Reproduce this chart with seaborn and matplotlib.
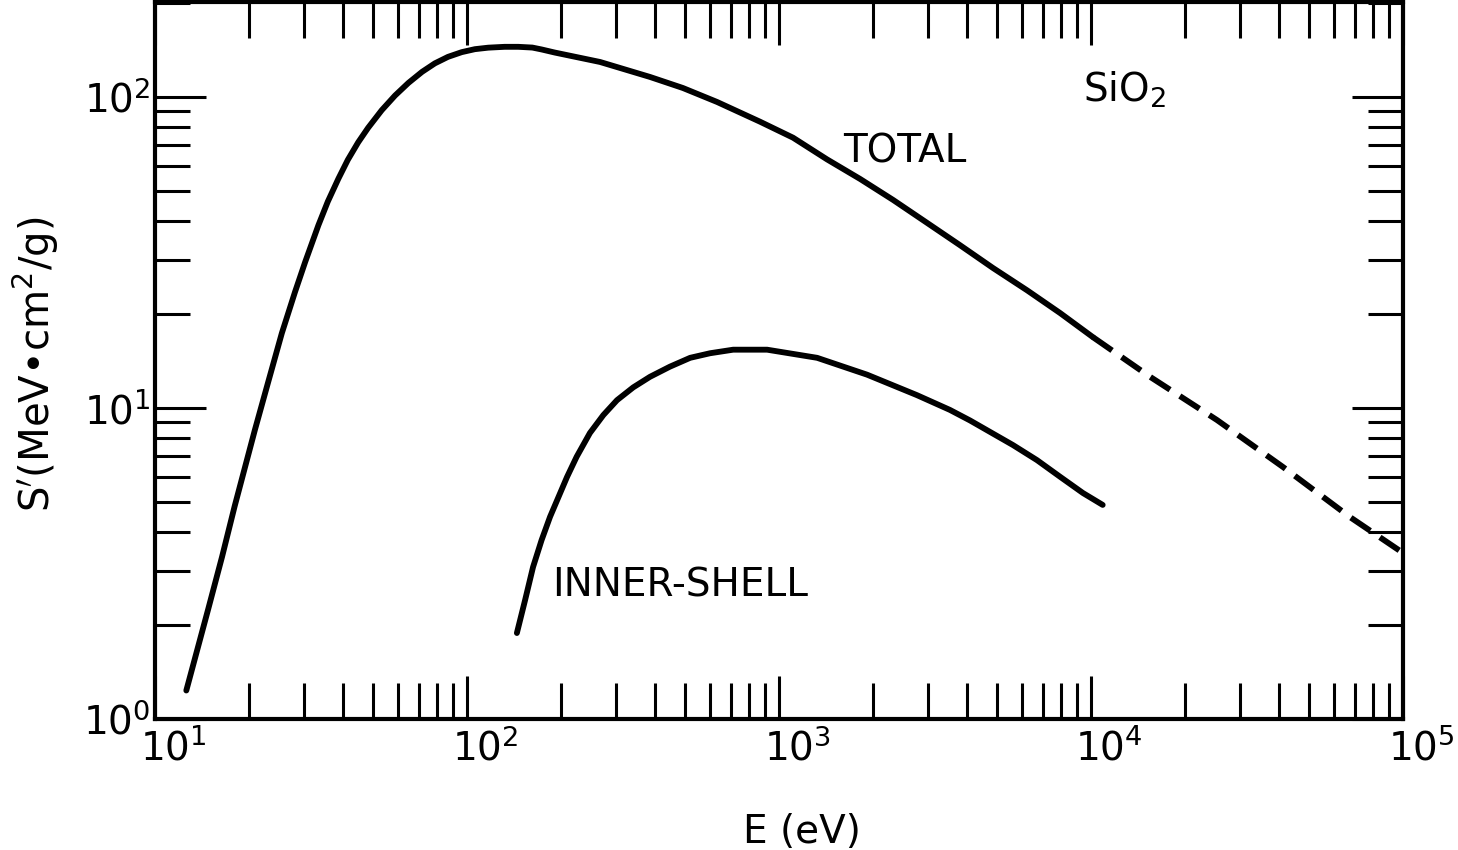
import numpy as np
import matplotlib
matplotlib.use("Agg")
import matplotlib.pyplot as plt
import matplotlib.transforms as mtransforms
from matplotlib.ticker import LogLocator, NullFormatter
import seaborn as sns

# values (E in eV, S' in MeV cm^2/g)
total_e = [12.6, 14.8, 16.4, 18.0, 20.9, 23.1, 25.5, 28.1, 30.3, 33.4, 35.8, 38.7,
           41.5, 44.8, 48.2, 53.3, 58.8, 64.9, 71.8, 78.9, 86.9, 96.2, 106, 117,
           132, 146, 162, 173.4, 191, 267, 386, 492, 633, 869, 1109, 1426, 1820,
           2319, 2980, 3800, 4850, 6240, 7960, 10140]
total_s = [1.235, 2.25, 3.32, 4.83, 8.5, 12.2, 17.4, 23.6, 29.5, 38.7, 46.1, 54.6,
           62.8, 71.5, 79.6, 90.7, 101.1, 111, 120.5, 128.3, 134.6, 139.4, 142.5, 144.1,
           145, 145, 144.2, 142.2, 139, 129.6, 116, 106.9, 96.4, 83.3, 74.0, 63.0, 54.5,
           46.7, 39.4, 33.4, 28.2, 23.9, 20.2, 16.9]

# extrapolated part of the total curve (dashed)
tail_e = [10140, 15460, 25330, 41250, 67600, 100000]
tail_s = [16.9, 12.6, 9.15, 6.46, 4.46, 3.42]

inner_e = [144.5, 153.5, 162.8, 173.4, 184.6, 209.2, 224.6, 247.7, 273.5, 302.6,
           341, 386, 447, 519, 601, 713, 916, 1325, 1915, 2767, 3530, 4094,
           5623, 6710, 7960, 9420, 10900]
inner_s = [1.89, 2.41, 3.08, 3.76, 4.47, 6.0, 6.97, 8.31, 9.49, 10.6,
           11.65, 12.6, 13.58, 14.5, 15.0, 15.4, 15.4, 14.5, 12.8, 11.0, 9.86, 9.12,
           7.6, 6.8, 6.01, 5.33, 4.88]

sns.set_style("ticks")
plt.rcParams["font.family"] = ["DejaVu Sans"]
plt.rcParams["mathtext.fontset"] = "dejavusans"
plt.rcParams["text.color"] = "black"
plt.rcParams["axes.labelcolor"] = "black"

fig = plt.figure(figsize=(14.58, 8.5), dpi=100)
ax = fig.add_axes([0.1063, 0.1541, 0.856, 0.8435])
ax.set_xscale("log")
ax.set_yscale("log")

lw = 4.2
sns.lineplot(x=total_e, y=total_s, ax=ax, color="black", lw=lw,
             estimator=None, sort=False, solid_capstyle="round", solid_joinstyle="round")
sns.lineplot(x=tail_e, y=tail_s, ax=ax, color="black", lw=lw,
             linestyle=(0, (4, 2)), estimator=None, sort=False)
sns.lineplot(x=inner_e, y=inner_s, ax=ax, color="black", lw=lw,
             estimator=None, sort=False, solid_capstyle="round", solid_joinstyle="round")

ax.set_xlim(10, 1e5)
ax.set_ylim(1, 202)

ax.set_xticks([10, 100, 1000, 10000, 100000])
ax.set_yticks([1, 10, 100])
ax.xaxis.set_minor_locator(LogLocator(base=10, subs=np.arange(2, 10), numticks=20))
ax.yaxis.set_minor_locator(LogLocator(base=10, subs=np.arange(2, 10), numticks=20))
ax.xaxis.set_minor_formatter(NullFormatter())
ax.yaxis.set_minor_formatter(NullFormatter())

ax.tick_params(which="both", direction="in", top=True, right=True,
               width=2.2, color="black", labelcolor="black")
ax.tick_params(axis="y", which="major", length=37, labelsize=28, pad=3)
ax.tick_params(axis="y", which="minor", length=25)
ax.tick_params(axis="x", which="major", length=31, labelsize=28, pad=7)
ax.tick_params(axis="x", which="minor", length=26)

for sp in ax.spines.values():
    sp.set_linewidth(3)
    sp.set_color("black")

# x tick labels sit a little right of their ticks in the original
shift = mtransforms.ScaledTranslation(0.18, 0, fig.dpi_scale_trans)
for lab in ax.get_xticklabels():
    lab.set_transform(lab.get_transform() + shift)

ax.set_xlabel("E (eV)", fontsize=28, va="center")
ax.xaxis.set_label_coords(0.518, -0.158)
ax.set_ylabel(r"S$^{\prime}$(MeV•cm$^{2}$/g)", fontsize=29, va="center")
ax.yaxis.set_label_coords(-0.095, 0.494)

ax.text(9420, 96.4, "SiO$_2$", fontsize=28, ha="left", va="baseline")
ax.text(1603, 61.8, "TOTAL", fontsize=28, ha="left", va="baseline")
ax.text(187, 2.47, "INNER-SHELL", fontsize=28, ha="left", va="baseline")

fig.savefig("out.png", dpi=100)
